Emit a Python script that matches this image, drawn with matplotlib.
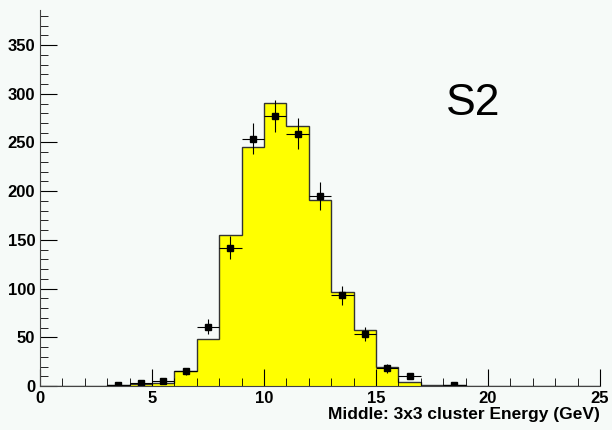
import numpy as np
import matplotlib.pyplot as plt
from matplotlib.ticker import MultipleLocator

plt.rcParams['font.family'] = ['Liberation Sans', 'DejaVu Sans']

# histogram (MC) bin edges and contents
edges = np.arange(0, 26, 1)
hist = [0, 0, 0, 1, 2, 3, 15, 48, 155, 245, 291, 267, 191, 97, 57, 19, 4, 1, 1, 0, 0, 0, 0, 0, 0]

# data points
pts_x = [3.5, 4.5, 5.5, 6.5, 7.5, 8.5, 9.5, 10.5, 11.5, 12.5, 13.5, 14.5, 15.5, 16.5, 18.5]
pts_y = [1, 3, 5, 15, 61, 142, 254, 277, 259, 195, 93, 53, 18, 10, 1]

bg = '#f6faf8'
fig = plt.figure(figsize=(6.12, 4.30), dpi=100, facecolor=bg)
ax = fig.add_axes([40/612, 44/430, 560/612, 376/430], facecolor=bg)

ax.stairs(hist, edges, fill=True, color='#ffff00')
ax.stairs(hist, edges, color='#333333', linewidth=1)
err = np.sqrt(pts_y)
ax.errorbar(pts_x, pts_y, yerr=err, xerr=0.5, fmt='s', ms=4, color='black',
            elinewidth=0.8, capsize=0)

ax.set_xlim(0, 25)
ax.set_ylim(0, 386)
ax.xaxis.set_major_locator(MultipleLocator(5))
ax.xaxis.set_minor_locator(MultipleLocator(1))
ax.yaxis.set_major_locator(MultipleLocator(50))
ax.yaxis.set_minor_locator(MultipleLocator(10))
ax.tick_params(which='both', direction='in', top=False, right=False, labelsize=12)
ax.tick_params(which='major', length=12)
ax.tick_params(which='minor', length=6)
for lab in ax.get_xticklabels() + ax.get_yticklabels():
    lab.set_fontweight('bold')
for s in ax.spines.values():
    s.set_color('#444444')
ax.spines['top'].set_visible(False)
ax.spines['right'].set_visible(False)

ax.set_xlabel('Middle: 3x3 cluster Energy (GeV)', fontweight='bold', fontsize=12.5,
              loc='right', labelpad=1)
ax.text(0.725, 0.72, 'S2', transform=ax.transAxes, fontsize=32)

fig.savefig('out.png', dpi=100, facecolor=bg)
